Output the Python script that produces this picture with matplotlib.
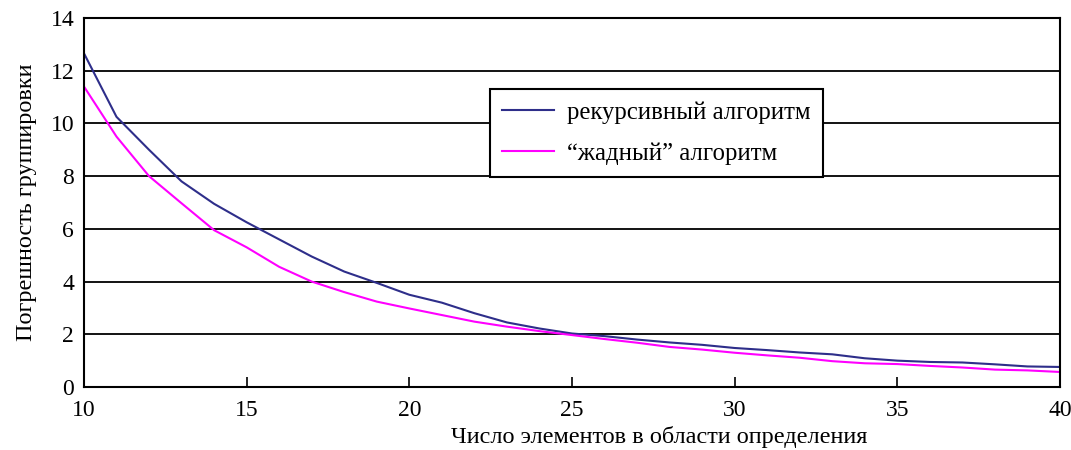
import numpy as np
import matplotlib.pyplot as plt

plt.rcParams['font.family'] = ['Liberation Serif', 'DejaVu Serif']

# ================= данные =================
n_elem = list(range(10, 41))
err_recursive = [12.66, 10.25, 9.0, 7.8, 6.95, 6.25, 5.6, 4.95, 4.38, 3.95,
                 3.5, 3.2, 2.8, 2.45, 2.22, 2.03, 1.93, 1.8, 1.69, 1.6,
                 1.48, 1.4, 1.31, 1.24, 1.09, 1.0, 0.95, 0.93, 0.86, 0.78,
                 0.76]
err_greedy = [11.4, 9.5, 8.0, 6.97, 5.95, 5.3, 4.56, 4.0, 3.6, 3.24,
              2.98, 2.73, 2.48, 2.29, 2.12, 1.97, 1.82, 1.68, 1.52, 1.42,
              1.3, 1.2, 1.11, 0.98, 0.9, 0.87, 0.8, 0.74, 0.66, 0.63,
              0.57]

label_rec = 'рекурсивный алгоритм'
label_greedy = '\u201cжадный\u201d алгоритм'

# ================= график =================
fig = plt.figure(figsize=(10.71, 4.5), dpi=100)
ax = fig.add_axes([0.0784, 0.14, 0.9113, 0.82])

ax.plot(n_elem, err_recursive, color='#2e2e8a', linewidth=1.5, label=label_rec)
ax.plot(n_elem, err_greedy, color='#ff00ff', linewidth=1.5, label=label_greedy)

ax.set_xlim(10, 40)
ax.set_ylim(0, 14)
ax.set_xticks([10, 15, 20, 25, 30, 35, 40])
ax.set_yticks([0, 2, 4, 6, 8, 10, 12, 14])
ax.tick_params(axis='x', direction='in', length=7, width=1.2, labelsize=17, pad=9)
ax.tick_params(axis='y', length=0, labelsize=17, pad=7)

for y in range(2, 14, 2):
    ax.axhline(y, color='black', linewidth=1.3, zorder=0)

for s in ax.spines.values():
    s.set_linewidth(1.5)

# подпись оси x смещена вправо, как в оригинале
ax.set_xlabel('Число элементов в области определения', fontsize=17.5)
ax.xaxis.set_label_coords(0.589, -0.107)
ax.set_ylabel('Погрешность группировки', fontsize=17.5, labelpad=10)

leg = ax.legend(loc='upper left', bbox_to_anchor=(0.416, 0.808), fontsize=17.8,
                frameon=True, fancybox=False, handlelength=2.1,
                handletextpad=0.5, borderpad=0.5, labelspacing=0.75,
                borderaxespad=0)
leg.get_frame().set_edgecolor('black')
leg.get_frame().set_linewidth(1.5)
leg.get_frame().set_alpha(1)

plt.savefig('out.png', dpi=100)
